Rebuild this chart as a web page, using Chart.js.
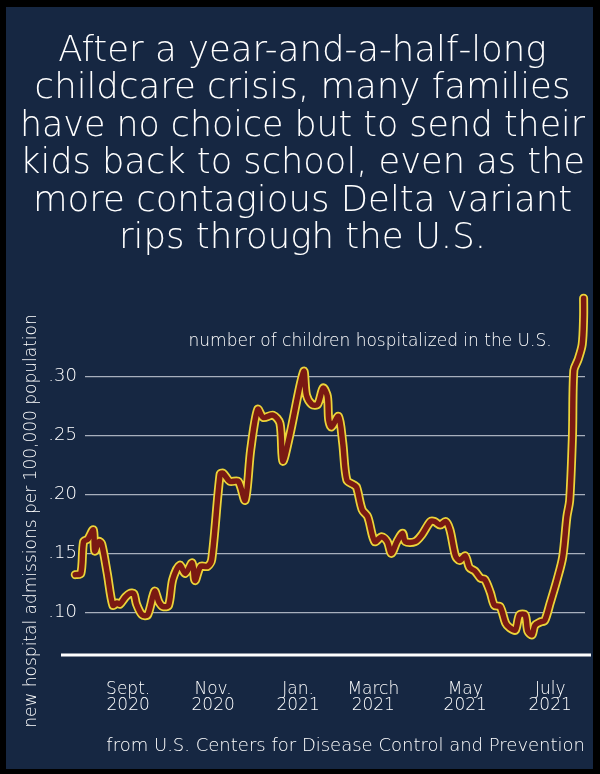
<!DOCTYPE html>
<html>
<head>
<meta charset="utf-8">
<script src="https://cdn.jsdelivr.net/npm/chart.js@4.4.0/dist/chart.umd.min.js"></script>
<style>
  html, body { margin: 0; padding: 0; background: #000; }
  #panel { position: absolute; left: 6px; top: 7px; width: 587px; height: 762px; background: #162742; }
  #wrap { position: absolute; left: 0; top: 0; width: 600px; height: 774px; }
</style>
</head>
<body>
<div id="panel"></div>
<div id="wrap"><canvas id="chart" width="600" height="774"></canvas></div>
<script>
// days counted from Aug 1, 2020
const dayIndex = [-7, -3, -1, 2, 6, 7, 10, 12, 16, 20, 23, 25, 29, 32, 35, 37, 41, 45, 50, 53,
  56, 60, 63, 68, 72, 77, 79, 83, 88, 91, 97, 99, 104, 110, 115, 119, 124, 128, 135, 140,
  142, 147, 157, 159, 163, 167, 171, 174, 175, 177, 182, 185, 188, 193, 195, 199, 203, 208, 213, 217,
  220, 224, 228, 230, 237, 242, 248, 251, 255, 259, 262, 266, 269, 273, 276, 280, 284, 287, 291, 294,
  298, 302, 305, 309, 312, 316, 318, 321, 323, 327, 330, 334, 339, 343, 346, 348, 350, 351, 354, 357,
  358, 358];
// new hospital admissions per 100,000 children
const admissionsRate = [0.132, 0.133, 0.160, 0.162, 0.170, 0.152, 0.160, 0.158, 0.133, 0.106,
  0.108, 0.107, 0.113, 0.116, 0.116, 0.107, 0.098, 0.098, 0.118, 0.109,
  0.105, 0.106, 0.128, 0.140, 0.133, 0.142, 0.127, 0.139, 0.139, 0.145,
  0.217, 0.218, 0.211, 0.211, 0.195, 0.238, 0.272, 0.265, 0.267, 0.260,
  0.228, 0.250, 0.304, 0.284, 0.276, 0.276, 0.290, 0.283, 0.263, 0.257,
  0.266, 0.244, 0.212, 0.208, 0.206, 0.187, 0.181, 0.160, 0.164, 0.160,
  0.150, 0.160, 0.167, 0.160, 0.160, 0.166, 0.177, 0.177, 0.174, 0.177,
  0.170, 0.148, 0.144, 0.148, 0.138, 0.135, 0.129, 0.128, 0.117, 0.106,
  0.105, 0.091, 0.087, 0.085, 0.098, 0.098, 0.084, 0.081, 0.089, 0.092,
  0.093, 0.108, 0.128, 0.147, 0.181, 0.195, 0.250, 0.305, 0.314, 0.327,
  0.350, 0.366];

// where the hand-lettered month labels sit on the day axis
const monthDays = [31, 92, 153, 207, 273, 334];
const monthLabels = [["Sept.", "2020"], ["Nov.", "2020"], ["Jan.", "2021"], ["March", "2021"], ["May", "2021"], ["July", "2021"]];
const yTicks = [0.10, 0.15, 0.20, 0.25, 0.30];

const titleLines = [
  "After a year-and-a-half-long",
  "childcare crisis, many families",
  "have no choice but to send their",
  "kids back to school, even as the",
  "more contagious Delta variant",
  "rips through the U.S."
];
const noteText = "number of children hospitalized in the U.S.";
const yAxisText = "new hospital admissions per 100,000 population";
const sourceText = "from U.S. Centers for Disease Control and Prevention";

const FONT = "'DejaVu Sans', 'Noto Sans', sans-serif";
const points = dayIndex.map((d, i) => ({ x: d, y: admissionsRate[i] }));

const decorations = {
  id: 'decorations',
  beforeDatasetsDraw(chart) {
    const { ctx, chartArea } = chart;
    ctx.save();
    ctx.strokeStyle = '#ffffff';
    ctx.lineWidth = 3;
    ctx.beginPath();
    ctx.moveTo(chartArea.left - 24, chartArea.bottom);
    ctx.lineTo(chartArea.right + 6, chartArea.bottom);
    ctx.stroke();
    ctx.restore();
  },
  afterDraw(chart) {
    const { ctx, scales, chartArea } = chart;
    ctx.save();
    ctx.fillStyle = '#ffffff';
    ctx.font = "200 17px " + FONT;
    ctx.textAlign = 'right';
    ctx.textBaseline = 'middle';
    ctx.fillText(noteText, scales.x.getPixelForValue(335), scales.y.getPixelForValue(0.329));

    // axis title, hand placed a little below the middle of the plot
    ctx.translate(32, chartArea.bottom - 134);
    ctx.rotate(-Math.PI / 2);
    ctx.textAlign = 'center';
    ctx.font = "200 17px " + FONT;
    ctx.fillText(yAxisText, 0, 0);
    ctx.restore();
  }
};

new Chart(document.getElementById('chart'), {
  type: 'line',
  data: {
    datasets: [{
      data: points,
      borderColor: '#7a1912',
      borderWidth: 5.5,
      order: 0
    }, {
      data: points,
      borderColor: '#ecd43a',
      borderWidth: 9,
      order: 1
    }]
  },
  options: {
    responsive: false,
    animation: false,
    layout: { padding: { left: 20, right: 15, top: 7, bottom: 7 } },
    elements: {
      point: { radius: 0 },
      line: { tension: 0.3, borderJoinStyle: 'round', borderCapStyle: 'round', fill: false }
    },
    datasets: { line: { clip: false } },
    plugins: {
      legend: { display: false },
      tooltip: { enabled: false },
      title: {
        display: true,
        text: titleLines,
        color: '#ffffff',
        font: { family: FONT, size: 35.5, weight: 200, lineHeight: '37.5px' },
        padding: { top: 26, bottom: 35.5 }
      },
      subtitle: {
        display: true,
        position: 'bottom',
        align: 'end',
        text: sourceText,
        color: '#ffffff',
        font: { family: FONT, size: 18, weight: 200, lineHeight: '18px' },
        padding: { top: 22, bottom: 12 }
      }
    },
    scales: {
      x: {
        type: 'linear',
        bounds: 'data',
        afterDataLimits: s => { s.min = 0; s.max = 359; },
        afterBuildTicks: s => { s.ticks = monthDays.map(v => ({ value: v })); },
        afterFit: s => { s.height = 60; },
        grid: { display: false },
        border: { display: false },
        ticks: {
          autoSkip: false,
          maxRotation: 0,
          padding: 19,
          color: '#ffffff',
          font: { family: FONT, size: 17, weight: 200, lineHeight: '16px' },
          callback: (v, i) => monthLabels[i]
        }
      },
      y: {
        bounds: 'data',
        afterDataLimits: s => { s.min = 0.064; s.max = 0.37; },
        afterBuildTicks: s => { s.ticks = yTicks.map(v => ({ value: v })); },
        afterFit: s => { s.width = 65; },
        border: { display: false },
        grid: { color: 'rgba(205,210,220,0.8)', lineWidth: 1.3, drawTicks: false },
        ticks: {
          padding: 8,
          color: '#ffffff',
          font: { family: FONT, size: 18, weight: 200 },
          callback: v => v.toFixed(2).replace(/^0/, '')
        }
      }
    }
  },
  plugins: [decorations]
});
</script>
</body>
</html>
